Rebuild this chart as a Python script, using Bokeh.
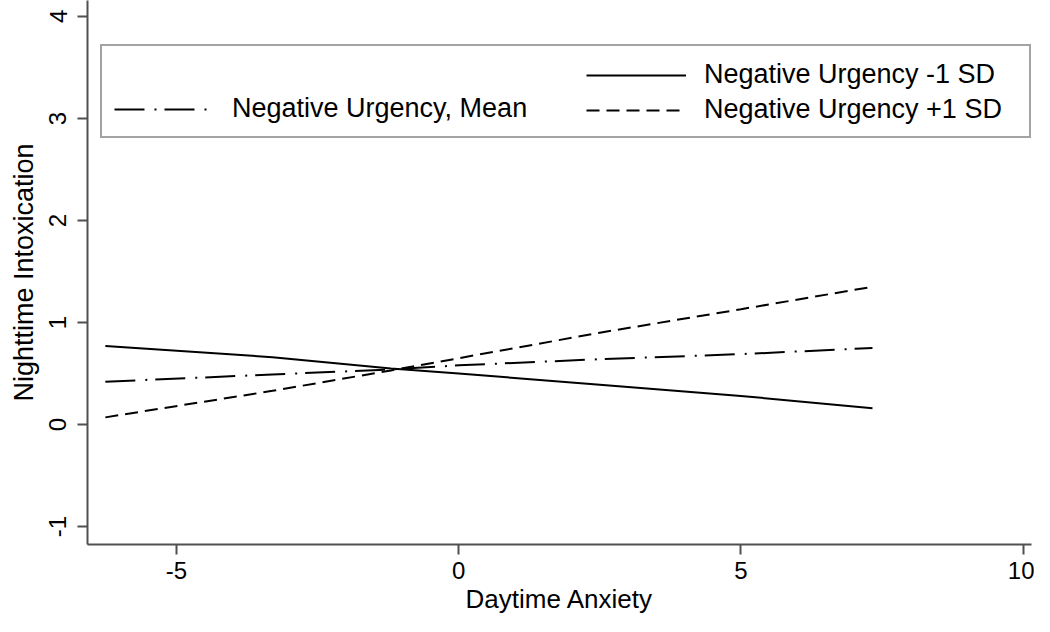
from bokeh.plotting import figure
from bokeh.models import (Legend, LegendItem, FixedTicker, Range1d, ColumnDataSource,
                          CustomJSTickFormatter)
from bokeh.embed import file_html
from bokeh.resources import INLINE

# data
anxiety = [-6.26, -3.3, -1.2, 0.0, 2.5, 5.0, 7.33]
nu_minus1sd = [0.77, 0.66, 0.55, 0.50, 0.39, 0.28, 0.16]
nu_mean = [0.42, 0.49, 0.54, 0.58, 0.64, 0.69, 0.75]
nu_plus1sd = [0.07, 0.33, 0.53, 0.65, 0.90, 1.13, 1.35]

x_ticks = [-5, 0, 5, 10]
y_ticks = [-1, 0, 1, 2, 3, 4]

FONT = "Liberation Sans"
AX = "#505050"

p = figure(width=1034, height=616, output_backend="svg", toolbar_location=None,
           x_range=Range1d(-6.576, 10.147), y_range=Range1d(-1.176, 4.156),
           min_border_left=87, min_border_right=3, min_border_top=0, min_border_bottom=70)
p.outline_line_color = None
p.xgrid.visible = False
p.ygrid.visible = False

src = ColumnDataSource(dict(x=anxiety, m1=nu_minus1sd, mn=nu_mean, p1=nu_plus1sd))
r_m1 = p.line("x", "m1", source=src, line_color="black", line_width=2)
r_mn = p.line("x", "mn", source=src, line_color="black", line_width=2, line_dash="30 10 2 8")
r_p1 = p.line("x", "p1", source=src, line_color="black", line_width=2, line_dash="13 7")
r_blank = p.line(x=[], y=[], line_alpha=0)

fmt = CustomJSTickFormatter(code="return tick.toString();")
for ax in (p.xaxis[0], p.yaxis[0]):
    ax.axis_line_color = AX
    ax.axis_line_width = 2
    ax.major_tick_line_color = AX
    ax.major_tick_line_width = 2
    ax.major_tick_out = 10
    ax.major_tick_in = 0
    ax.minor_tick_line_color = None
    ax.major_label_text_font = FONT
    ax.major_label_text_font_size = "24px"
    ax.major_label_text_color = "black"
    ax.axis_label_text_font = FONT
    ax.axis_label_text_font_style = "normal"
    ax.axis_label_text_color = "black"
    ax.formatter = fmt

p.xaxis.ticker = FixedTicker(ticks=x_ticks)
p.yaxis.ticker = FixedTicker(ticks=y_ticks)
p.xaxis.axis_label = "Daytime Anxiety"
p.yaxis.axis_label = "Nighttime Intoxication"
p.xaxis.axis_label_text_font_size = "26px"
p.yaxis.axis_label_text_font_size = "27px"
p.yaxis.major_label_orientation = "vertical"
p.xaxis.major_label_standoff = 7
p.yaxis.major_label_standoff = 11
p.xaxis.axis_label_standoff = 2
p.yaxis.axis_label_standoff = 8


def style_legend(lg):
    lg.label_text_font = FONT
    lg.label_text_font_size = "27px"
    lg.label_text_color = "black"
    lg.glyph_width = 100
    lg.glyph_height = 20
    lg.label_standoff = 18
    lg.label_height = 31
    lg.spacing = 4
    lg.padding = 12
    lg.margin = 0
    lg.orientation = "vertical"


# left column (with the frame of the whole key)
legend_l = Legend(items=[
    LegendItem(label=" ", renderers=[r_blank]),
    LegendItem(label="Negative Urgency, Mean", renderers=[r_mn]),
], location=(13, 406))
style_legend(legend_l)
legend_l.label_width = 785
legend_l.border_line_color = "#484848"
legend_l.border_line_width = 2
legend_l.background_fill_color = "white"
legend_l.background_fill_alpha = 1
p.add_layout(legend_l, "center")

# right column of the key
legend_r = Legend(items=[
    LegendItem(label="Negative Urgency -1 SD", renderers=[r_m1]),
    LegendItem(label="Negative Urgency +1 SD", renderers=[r_p1]),
], location=(499, 419))
style_legend(legend_r)
legend_r.border_line_color = None
legend_r.background_fill_alpha = 0
p.add_layout(legend_r, "center")

open("out.html", "w").write(file_html(p, INLINE))
